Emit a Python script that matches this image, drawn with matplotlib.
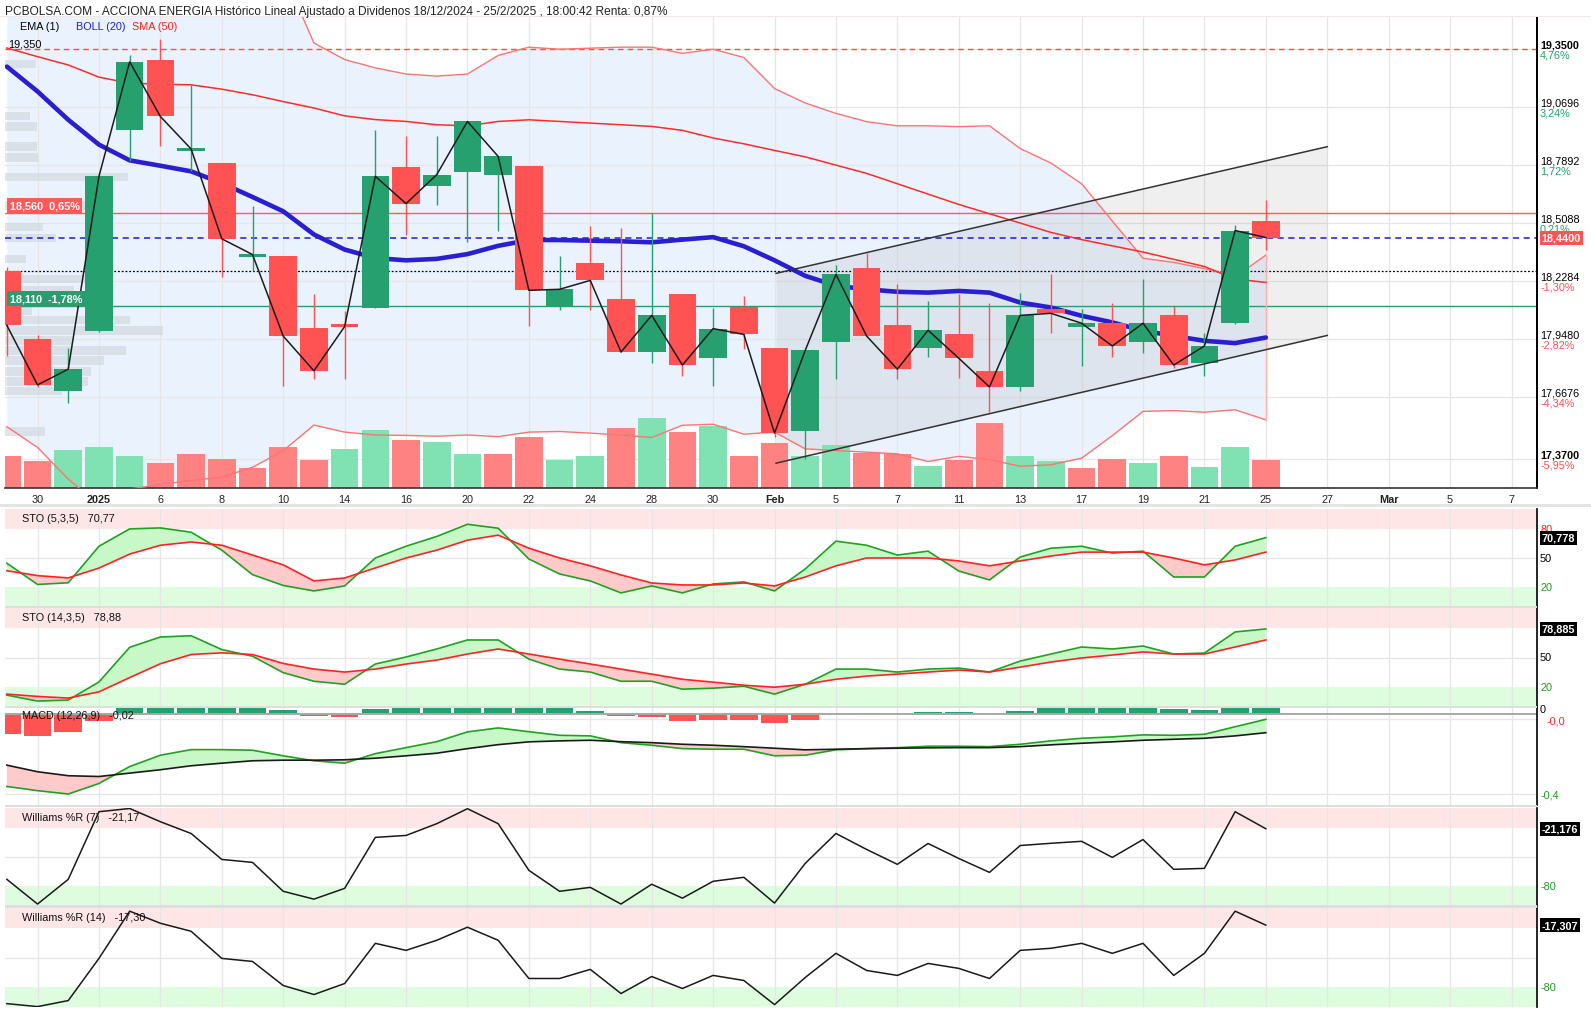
import numpy as np
import matplotlib
matplotlib.use('Agg')
import matplotlib.pyplot as plt
from matplotlib.transforms import blended_transform_factory as btf
from matplotlib.patches import Rectangle

# ---------------- DATA ----------------
title = ('PCBOLSA.COM - ACCIONA ENERGIA Histórico Lineal Ajustado a Dividenos '
         '18/12/2024 - 25/2/2025 , 18:00:42 Renta: 0,87%')

dates = ['27/12', '30/12', '31/12', '02/01', '03/01', '06/01', '07/01', '08/01', '09/01', '10/01',
         '13/01', '14/01', '15/01', '16/01', '17/01', '20/01', '21/01', '22/01', '23/01', '24/01',
         '27/01', '28/01', '29/01', '30/01', '31/01', '03/02', '04/02', '05/02', '06/02', '07/02',
         '10/02', '11/02', '12/02', '13/02', '14/02', '17/02', '18/02', '19/02', '20/02', '21/02',
         '24/02', '25/02']

open_ = [18.28, 17.95, 17.70, 17.99, 18.96, 19.30, 18.86, 18.80, 18.35, 18.35,
         18.005, 18.02, 18.10, 18.78, 18.69, 18.755, 18.744, 18.784, 18.104, 18.315,
         18.141, 17.887, 18.165, 17.857, 18.104, 17.905, 17.506, 17.935, 18.294, 18.016,
         17.905, 17.972, 17.793, 17.718, 18.093, 18.008, 18.026, 17.935, 18.064, 17.836,
         18.026, 18.522]
high = [18.30, 17.97, 17.905, 18.74, 19.32, 19.40, 19.178, 18.80, 18.594, 18.353,
        18.165, 18.085, 18.961, 18.933, 18.93, 19.005, 18.835, 18.784, 18.353, 18.495,
        18.484, 18.559, 18.165, 18.101, 18.157, 17.905, 17.90, 18.305, 18.366, 18.214,
        18.133, 18.165, 18.122, 18.174, 18.262, 18.093, 18.122, 18.242, 18.109, 17.981,
        18.503, 18.623]
low = [17.866, 17.72, 17.64, 17.985, 18.808, 18.88, 18.76, 18.25, 18.278, 17.723,
       17.755, 17.755, 18.10, 18.45, 18.599, 18.417, 18.47, 18.012, 18.09, 18.09,
       17.887, 17.833, 17.771, 17.723, 17.90, 17.474, 17.37, 17.755, 17.96, 17.755,
       17.863, 17.759, 17.595, 17.699, 17.977, 17.82, 17.863, 17.881, 17.81, 17.771,
       18.02, 18.379]
close = [18.016, 17.728, 17.804, 18.736, 19.289, 19.025, 18.868, 18.434, 18.358, 17.964,
         17.796, 18.01, 18.736, 18.604, 18.744, 19.001, 18.832, 18.185, 18.19, 18.233,
         17.887, 18.064, 17.824, 18.0, 17.972, 17.495, 17.895, 18.262, 17.964, 17.804,
         17.992, 17.857, 17.718, 18.064, 18.074, 18.026, 17.916, 18.026, 17.824, 17.916,
         18.474, 18.44]
volume_k = [320, 270, 380, 410, 320, 250, 340, 290, 200, 410,
            280, 390, 580, 480, 460, 340, 340, 510, 280, 320,
            600, 700, 560, 620, 320, 450, 320, 430, 350, 340,
            220, 280, 650, 320, 270, 200, 290, 250, 320, 210,
            410, 280]

bb_upper = [21.0, 20.87, 20.75, 20.63, 20.40, 20.33, 20.25, 20.12, 19.94, 19.72,
            19.38, 19.30, 19.26, 19.23, 19.22, 19.23, 19.32, 19.36, 19.35, 19.355,
            19.36, 19.36, 19.33, 19.35, 19.31, 19.16, 19.09, 19.04, 19.00, 18.98,
            18.98, 18.976, 18.98, 18.87, 18.80, 18.70, 18.52, 18.34, 18.32, 18.29,
            18.25, 18.355]
bb_mid = [19.266, 19.146, 19.009, 18.889, 18.813, 18.787, 18.76, 18.703, 18.636, 18.567,
          18.455, 18.382, 18.341, 18.33, 18.337, 18.36, 18.40, 18.428, 18.428, 18.425,
          18.422, 18.417, 18.43, 18.442, 18.398, 18.33, 18.255, 18.207, 18.19, 18.178,
          18.174, 18.182, 18.174, 18.126, 18.102, 18.062, 18.03, 17.99, 17.965, 17.941,
          17.93, 17.957]
bb_lower = [17.526, 17.426, 17.273, 17.15, 17.225, 17.247, 17.266, 17.282, 17.33, 17.41,
            17.534, 17.50, 17.486, 17.484, 17.48, 17.486, 17.478, 17.50, 17.503, 17.495,
            17.486, 17.474, 17.533, 17.538, 17.49, 17.50, 17.419, 17.411, 17.403, 17.395,
            17.358, 17.383, 17.367, 17.335, 17.342, 17.374, 17.483, 17.60, 17.604, 17.596,
            17.608, 17.559]
sma50 = [19.356, 19.314, 19.274, 19.215, 19.186, 19.181, 19.178, 19.157, 19.13, 19.097,
         19.066, 19.028, 19.01, 19.001, 18.985, 18.98, 19.001, 19.009, 19.001, 18.993,
         18.985, 18.977, 18.958, 18.921, 18.893, 18.861, 18.83, 18.79, 18.75, 18.70,
         18.65, 18.60, 18.555, 18.51, 18.465, 18.43, 18.40, 18.37, 18.335, 18.30,
         18.24, 18.223]

# volume profile (price level, volume in thousands)
vp_price = [19.279, 19.028, 18.978, 18.881, 18.828, 18.732, 18.594, 18.491, 18.438, 18.337,
            18.24, 18.187, 18.134, 18.088, 18.042, 17.992, 17.944, 17.893, 17.845, 17.794,
            17.746, 17.698, 17.502]
vp_volume_k = [310, 250, 320, 320, 330, 1230, 830, 380, 510, 210,
               850, 690, 850, 270, 1250, 1580, 670, 1210, 990, 860,
               830, 570, 400]

# trend channel (x in trading-day index, prices)
channel_x = [25.05, 43.0]
channel_upper = [18.267, 18.879]
channel_lower = [17.35, 17.967]

level_max = 19.35
level_res = 18.56
level_res_txt = '18,560  0,65%'
level_last = 18.44
level_dot = 18.28
level_sup = 18.11
level_sup_txt = '18,110  -1,78%'

price_ticks = [19.35, 19.0696, 18.7892, 18.5088, 18.2284, 17.948, 17.6676, 17.37]
price_tick_txt = ['19,3500', '19,0696', '18,7892', '18,5088', '18,2284', '17,9480', '17,6676', '17,3700']
price_pct_txt = ['4,76%', '3,24%', '1,72%', '0,21%', '-1,30%', '-2,82%', '-4,34%', '-5,95%']
price_pct_val = [4.76, 3.24, 1.72, 0.21, -1.30, -2.82, -4.34, -5.95]

x_tick_labels = ['30', '2025', '6', '8', '10', '14', '16', '20', '22', '24', '28', '30', 'Feb',
                 '5', '7', '11', '13', '17', '19', '21', '25', '27', 'Mar', '5', '7']
x_tick_bold = ['2025', 'Feb', 'Mar']

sto5_k = [44.7, 23, 24.7, 62, 79.7, 80.7, 76.3, 58, 33, 22,
          16.4, 21.5, 50, 62, 72, 84.4, 80.4, 49, 33.7, 26.6,
          14.4, 21.5, 14.4, 23.5, 25.6, 16.4, 38.8, 67.2, 63, 53,
          57, 36.7, 27.6, 51, 60, 62, 55, 57, 30.6, 30.6,
          62, 70.78]
sto5_d = [37, 32, 29.7, 39.7, 54, 63, 66.3, 63, 53, 43,
          26.6, 29.6, 39.8, 50, 58, 68.2, 73.3, 60, 50, 42,
          32.7, 24.5, 22.5, 22.5, 24.5, 21.5, 30.6, 42, 50, 50,
          50, 47, 42, 47, 52, 56, 56, 56, 50, 43,
          48, 56]
sto14_k = [12, 6, 7, 25.3, 60.3, 70.7, 72, 58, 51.3, 34.7,
           26, 23, 43.4, 50.5, 58.6, 67.7, 67.7, 48.4, 38.3, 35.3,
           26, 26, 18, 19, 21, 13, 23, 38.3, 38.3, 35.3,
           38.3, 39.3, 35.3, 46.4, 53.5, 60.6, 58.6, 61.6, 53.5, 54.5,
           75.8, 78.88]
sto14_d = [13, 10.7, 9, 15.3, 29.7, 43.7, 53, 54.7, 53, 44,
           38.3, 35.3, 38.3, 43.4, 47.4, 53.5, 58.6, 53.5, 48.4, 43.4,
           38.3, 33.2, 28, 25.1, 22, 20, 23, 28, 31.2, 33.2,
           35.3, 37.3, 35.3, 40.3, 45.4, 49.5, 52.5, 55.6, 53.5, 53.5,
           60.6, 67.7]
macd = [-0.362, -0.383, -0.40, -0.347, -0.262, -0.205, -0.177, -0.177, -0.18, -0.208,
        -0.233, -0.245, -0.197, -0.167, -0.137, -0.088, -0.068, -0.087, -0.105, -0.108,
        -0.142, -0.155, -0.172, -0.175, -0.175, -0.208, -0.205, -0.178, -0.172, -0.167,
        -0.16, -0.16, -0.162, -0.15, -0.133, -0.12, -0.113, -0.103, -0.105, -0.10,
        -0.062, -0.025]
macd_signal = [-0.255, -0.288, -0.308, -0.312, -0.295, -0.278, -0.258, -0.245, -0.233, -0.23,
               -0.23, -0.228, -0.22, -0.208, -0.195, -0.172, -0.152, -0.138, -0.133, -0.13,
               -0.137, -0.142, -0.15, -0.155, -0.162, -0.17, -0.178, -0.175, -0.172, -0.17,
               -0.168, -0.167, -0.167, -0.162, -0.153, -0.145, -0.138, -0.13, -0.125, -0.12,
               -0.108, -0.092]
macd_hist = [-0.10, -0.108, -0.09, -0.035, 0.05, 0.07, 0.08, 0.07, 0.05, 0.022,
             -0.01, -0.015, 0.028, 0.04, 0.06, 0.085, 0.085, 0.05, 0.03, 0.018,
             -0.01, -0.015, -0.032, -0.028, -0.028, -0.042, -0.028, 0.0, 0.005, 0.0,
             0.011, 0.011, 0.0, 0.017, 0.04, 0.045, 0.045, 0.05, 0.028, 0.022,
             0.045, 0.067]
wr7 = [-72.8, -98, -72.8, -3.8, -0.5, -14, -26, -52.5, -55.5, -85,
       -93, -82, -30, -28, -16, -0.7, -16, -63.6, -85, -81,
       -98, -77.8, -92, -74.8, -70.7, -97, -56.5, -26, -42.3, -57.5,
       -36.2, -51.5, -65.7, -38.3, -36, -34, -50.4, -32.2, -62.6, -61.6,
       -3.8, -21.176]
wr14 = [-96.6, -99.6, -93.5, -50.9, -3.2, -15.4, -23.5, -50.9, -54, -78.3,
        -87.4, -76.3, -35.7, -42.8, -32.6, -19.4, -32.6, -71.2, -71.2, -62,
        -86.4, -69.2, -81.3, -68.1, -73.2, -97.6, -70.2, -45.8, -63.1, -68.1,
        -56, -61, -71.2, -42.8, -40.7, -35.7, -45.8, -35.7, -68.1, -45.8,
        -3.2, -17.307]

# ---------------- STYLE / LAYOUT ----------------
W, H = 1591, 1012
FONT = ['Liberation Sans', 'DejaVu Sans']
plt.rcParams['font.family'] = FONT
fig = plt.figure(figsize=(W / 100, H / 100), dpi=100)
fig.patch.set_facecolor('white')

X0, X1 = 5, 1537
XMIN, XMAX = -0.06, 49.83
PX_PER_DAY = (X1 - X0) / (XMAX - XMIN)
GREEN = '#26a06f'
RED = '#ff5252'
VGREEN = '#80e2b2'
VRED = '#ff8282'
GRID = '#e6e6e6'
FS = 7.8

n = len(close)
x = np.arange(n)
tick_pos = np.arange(len(x_tick_labels)) * 2 + 1


def add_panel(y0, y1, ylim, bg=False):
    ax = fig.add_axes([X0 / W, 1 - y1 / H, (X1 - X0) / W, (y1 - y0) / H])
    ax.set_xlim(XMIN, XMAX)
    ax.set_ylim(*ylim)
    ax.set_xticks([])
    ax.set_yticks([])
    for s in ['top', 'left', 'bottom']:
        ax.spines[s].set_visible(False)
    ax.spines['right'].set_color('black')
    ax.spines['right'].set_linewidth(1.2)
    if not bg:
        ax.patch.set_alpha(0)
    return ax


def vgrid(ax):
    for t in tick_pos:
        ax.axvline(t, color=GRID, lw=0.9, zorder=0.5)


def rlabel(ax, yv, txt, color='black', va='center', weight='normal', box=None, dx=0.002):
    tr = btf(ax.transAxes, ax.transData)
    kw = {}
    if box:
        kw['bbox'] = dict(boxstyle='square,pad=0.18', fc=box, ec='none')
    ax.text(1 + dx, yv, txt, transform=tr, ha='left', va=va, fontsize=FS, color=color,
            fontweight=weight, clip_on=False, zorder=10, **kw)


# title
fig.text(5 / W, 1 - 12 / H, title, fontsize=8.6, color='#222222', va='center', ha='left')
fig.add_artist(Rectangle((0, 1 - 18 / H), 1, 1.5 / H, transform=fig.transFigure,
                         fc='#f2e6e6', ec='none'))

# ---------------- MAIN PANEL ----------------
YL = (17.2299, 19.5057)
ax_bg = add_panel(18, 489, YL, bg=True)
ax_vol = add_panel(18, 489, (0, 4710))
ax = add_panel(18, 489, YL)

ax_bg.fill_between(x, bb_lower, bb_upper, color='#eaf2fd', lw=0, zorder=0.2)
vgrid(ax_bg)
for p in price_ticks:
    ax_bg.axhline(p, color=GRID, lw=0.9, zorder=0.5)
# volume profile
vp_w = np.array(vp_volume_k) / 10.0 / PX_PER_DAY
ax_bg.barh(vp_price, vp_w, height=0.042, left=XMIN, color='#cfd4da', alpha=0.6, zorder=1)
# channel fill
ax_bg.fill_between(channel_x, channel_lower, channel_upper, color='#888888', alpha=0.13,
                   lw=0, zorder=1.2)

# volume bars
vcol = [VRED] + [VGREEN if close[i] >= close[i - 1] else VRED for i in range(1, n)]
ax_vol.bar(x, volume_k, width=0.9, color=vcol, zorder=1)

# horizontal levels
ax.axhline(level_max, color='#ff4d4d', lw=1.0, ls=(0, (4, 3)), zorder=2)
ax.axhline(level_res, color='#ff5a5a', lw=1.0, zorder=2)
ax.axhline(level_last, color='#1a1ae6', lw=1.1, ls=(0, (4, 3)), zorder=2)
ax.axhline(level_dot, color='black', lw=0.9, ls=(0, (1.5, 1.5)), zorder=2)
ax.axhline(level_sup, color='#2a9d70', lw=1.0, zorder=2)

# bands, SMA, mid
ax.plot(x, bb_upper, color='#ff7373', lw=1.0, zorder=3)
ax.plot(x, bb_lower, color='#ff7373', lw=1.0, zorder=3)
ax.plot([x[-1], x[-1]], [bb_lower[-1], bb_upper[-1]], color='#ffb0b0', lw=1.0, zorder=3)
ax.plot(x, sma50, color='#ff2b2b', lw=1.1, zorder=3)
ax.plot(x, bb_mid, color='#2a1fd0', lw=3.3, zorder=3.2, solid_capstyle='round')

# candles
for i in range(n):
    o, c, h_, l_ = open_[i], close[i], high[i], low[i]
    col = GREEN if c >= o else RED
    ax.vlines(i, l_, h_, color=col, lw=1.0, zorder=4)
    bh = max(abs(c - o), 0.013)
    bb = min(o, c) if abs(c - o) >= 0.013 else (o + c) / 2 - 0.0065
    ax.bar(i, bh, bottom=bb, width=0.9, color=col, zorder=4.1)

ax.plot(x, close, color='#1c1c1c', lw=1.1, zorder=5)
ax.plot(channel_x, channel_upper, color='#333333', lw=1.1, zorder=5)
ax.plot(channel_x, channel_lower, color='#333333', lw=1.1, zorder=5)

ax.spines['bottom'].set_visible(True)
ax.spines['bottom'].set_color('#333333')
ax.spines['bottom'].set_linewidth(1.2)

# right price labels
for p, t, pt, pv in zip(price_ticks, price_tick_txt, price_pct_txt, price_pct_val):
    bold = 'bold' if p in (max(price_ticks), min(price_ticks)) else 'normal'
    rlabel(ax, p, t, va='bottom', weight=bold)
    rlabel(ax, p, pt, va='top', color='#22a06b' if pv >= 0 else '#ff4d4d')
rlabel(ax, level_last, '18,4400', color='white', weight='bold', box='#ff5252', dx=0.003)

# left labels
trl = btf(ax.transAxes, ax.transData)
ax.text(0.002, level_max + 0.004, '19,350', transform=trl, fontsize=FS, va='bottom', ha='left',
        color='black', zorder=10)
ax.text(0.003, level_res + 0.01, level_res_txt, transform=trl, fontsize=FS, va='bottom', ha='left',
        color='white', fontweight='bold', zorder=10,
        bbox=dict(boxstyle='square,pad=0.25', fc='#ff5a5a', ec='none'))
ax.text(0.003, level_sup + 0.01, level_sup_txt, transform=trl, fontsize=FS, va='bottom', ha='left',
        color='white', fontweight='bold', zorder=10,
        bbox=dict(boxstyle='square,pad=0.25', fc='#2a9d70', ec='none'))

# legend row
fig.text(20 / W, 1 - 27 / H, 'EMA (1)', fontsize=FS, color='black', va='center')
fig.text(76 / W, 1 - 27 / H, 'BOLL (20)', fontsize=FS, color='#2222cc', va='center')
fig.text(132 / W, 1 - 27 / H, 'SMA (50)', fontsize=FS, color='#ff2020', va='center')

# date labels
trx = btf(ax.transData, ax.transAxes)
for p, t in zip(tick_pos, x_tick_labels):
    ax.text(p, -0.024, t, transform=trx, ha='center', va='center', fontsize=FS,
            fontweight='bold' if t in x_tick_bold else 'normal', color='#222222', clip_on=False)
fig.add_artist(Rectangle((0, 1 - 508 / H), 1, 3 / H, transform=fig.transFigure,
                         fc='#e4e4e4', ec='none'))

# ---------------- INDICATOR PANELS ----------------
def band_panel(y0, y1, ylim, hi, lo, mid):
    a = add_panel(y0, y1, ylim, bg=True)
    a.axhspan(hi[0], hi[1], color='#ffe6e6', lw=0, zorder=0.1)
    a.axhspan(lo[0], lo[1], color='#defcde', lw=0, zorder=0.1)
    a.axhline(mid, color=GRID, lw=0.9, zorder=0.5)
    vgrid(a)
    return a


def sto_panel(y0, y1, k, d, name, val, box):
    a = band_panel(y0, y1, (0, 100), (80, 100), (0, 20), 50)
    k = np.array(k); d = np.array(d)
    a.fill_between(x, k, d, where=k >= d, interpolate=True, color='#c8f8c8', lw=0, zorder=1)
    a.fill_between(x, k, d, where=k < d, interpolate=True, color='#ffcaca', lw=0, zorder=1)
    a.plot(x, k, color='#22a022', lw=1.2, zorder=2)
    a.plot(x, d, color='#ff2222', lw=1.2, zorder=2.1)
    a.text(17 / (X1 - X0), 91, name + '   ' + val, transform=btf(a.transAxes, a.transData),
           fontsize=FS, va='center', ha='left', color='#111111', zorder=5)
    if box != '78,885':
        rlabel(a, 80, '80', color='#ff2020', va='center')
    rlabel(a, 50, '50', va='center')
    rlabel(a, 20, '20', color='#1f9a1f', va='center')
    rlabel(a, k[-1], box, color='white', weight='bold', box='black', dx=0.003)
    return a


sto_panel(510, 608, sto5_k, sto5_d, 'STO (5,3,5)', '70,77', '70,778')
sto_panel(609, 708, sto14_k, sto14_d, 'STO (14,3,5)', '78,88', '78,885')

# MACD
am = add_panel(709, 806, (-0.455, 0.032), bg=True)
vgrid(am)
am.axhline(-0.4, color=GRID, lw=0.9, zorder=0.5)
am.axhline(-0.025, color=GRID, lw=0.9, zorder=0.5)
hcol = [GREEN if v >= 0 else RED for v in macd_hist]
am.bar(x, macd_hist, width=0.9, color=hcol, zorder=1)
am.axhline(0, color='#a8a8a8', lw=1.4, zorder=1.5)
mk = np.array(macd); ms = np.array(macd_signal)
am.fill_between(x, mk, ms, where=mk >= ms, interpolate=True, color='#c8f8c8', lw=0, zorder=1.2)
am.fill_between(x, mk, ms, where=mk < ms, interpolate=True, color='#ffcaca', lw=0, zorder=1.2)
am.plot(x, mk, color='#22a022', lw=1.2, zorder=2)
am.plot(x, ms, color='#1a1a1a', lw=1.2, zorder=2.1)
am.text(17 / (X1 - X0), -0.005, 'MACD (12,26,9)   -0,02', transform=btf(am.transAxes, am.transData),
        fontsize=FS, va='center', ha='left', color='#111111', zorder=5)
rlabel(am, 0.001, '0', va='bottom')
rlabel(am, -0.004, '-0,0', color='#ff2020', va='top', dx=0.006)
rlabel(am, -0.4, '-0,4', color='#1f9a1f', va='center')


def wr_panel(y0, y1, vals, name, val, box):
    a = band_panel(y0, y1, (-100, 0), (-20, 0), (-100, -80), -50)
    a.plot(x, vals, color='#1a1a1a', lw=1.1, zorder=2)
    a.text(17 / (X1 - X0), -9, name + '   ' + val, transform=btf(a.transAxes, a.transData),
           fontsize=FS, va='center', ha='left', color='#111111', zorder=5)
    rlabel(a, -80, '-80', color='#1f9a1f', va='center')
    rlabel(a, vals[-1], box, color='white', weight='bold', box='black', dx=0.003)
    return a


wr_panel(809, 907, wr7, 'Williams %R (7)', '-21,17', '-21,176')
wr_panel(909, 1008, wr14, 'Williams %R (14)', '-17,30', '-17,307')

# panel separators
for yy in (608, 708, 807, 907.5):
    fig.add_artist(Rectangle((X0 / W, 1 - (yy + 1.2) / H), (X1 - X0) / W, 2.4 / H,
                             transform=fig.transFigure, fc='#dedede', ec='none', zorder=20))

fig.savefig('out.png', dpi=100, facecolor='white')
